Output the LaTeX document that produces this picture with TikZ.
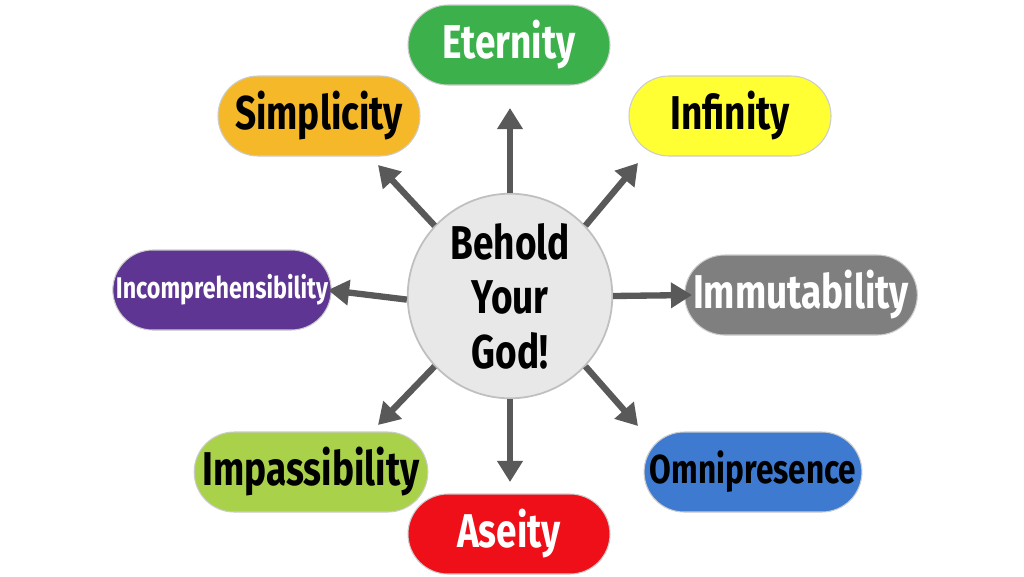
\documentclass[tikz,border=0pt]{standalone}
\usepackage{fontspec}
\setmainfont[FakeStretch=0.78]{Fira Sans}
\usetikzlibrary{arrows.meta,shapes.misc}
\begin{document}
\begin{tikzpicture}[x=0.02cm,y=-0.02cm,
  pill/.style={rounded rectangle,minimum width=202*0.02cm,minimum height=80*0.02cm,draw=black!20,line width=0.6pt,font=\bfseries\fontsize{27}{30}\selectfont,inner sep=0pt},
  arr/.style={draw=black!65,line width=3.6pt,-{Triangle[length=12pt,width=14pt]}}]
\useasboundingbox[fill=white] (0,0) rectangle (1024,576);
\definecolor{cg}{HTML}{3BB04B}\definecolor{co}{HTML}{F5B829}\definecolor{cy}{HTML}{FFFF33}
\definecolor{cp}{HTML}{5E3592}\definecolor{cgr}{HTML}{7F7F7F}\definecolor{cl}{HTML}{A9D14A}
\definecolor{cb}{HTML}{3E7BD0}\definecolor{cr}{HTML}{EE0F19}
\node[circle,minimum size=170*0.02cm,fill=black!9,draw=black!25,line width=1pt,align=center,font=\bfseries\fontsize{27}{31}\selectfont] (c) at (510,296) {Behold\\Your\\God!};
\node[pill,fill=cg,text=white] (e) at (509,45) {Eternity};
\node[pill,fill=co] (s) at (319,116) {Simplicity};
\node[pill,fill=cy] (i) at (730,116) {Infinity};
\node[pill,fill=cp,text=white,font=\bfseries\fontsize{17}{20}\selectfont] (ic) at (222,290) {Incomprehensibility};
\node[pill,fill=cgr,text=white] (im) at (801,295) {Immutability};
\node[pill,fill=cl] (ip) at (311,472) {Impassibility};
\node[pill,fill=cb,font=\bfseries\fontsize{23}{26}\selectfont] (o) at (753,472) {Omnipresence};
\node[pill,fill=cr,text=white] (a) at (509,534) {Aseity};
\coordinate (t1) at (510,108); \coordinate (t2) at (378,165); \coordinate (t3) at (638,163);
\coordinate (t4) at (328,290); \coordinate (t5) at (692,295); \coordinate (t6) at (378,425);
\coordinate (t7) at (510,482); \coordinate (t8) at (638,426);
\draw[arr] (c.90) -- (t1);
\draw[arr] (c.137) -- (t2);
\draw[arr] (c.43) -- (t3);
\draw[arr] (c.182) -- (t4);
\draw[arr] (c.0) -- (t5);
\draw[arr] (c.223) -- (t6);
\draw[arr] (c.270) -- (t7);
\draw[arr] (c.317) -- (t8);
\end{tikzpicture}
\end{document}
